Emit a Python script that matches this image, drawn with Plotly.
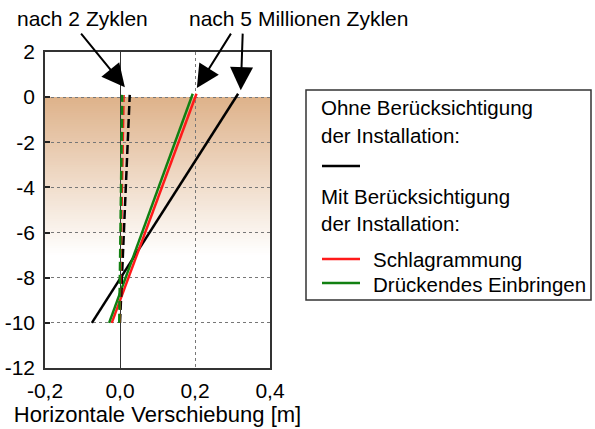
import plotly.graph_objects as go

# ---------------- data ----------------
depth_ends = [-10, 0.15]          # pile toe / head (m)
depth_ends_2 = [-10, 0.1]

# after 5 million cycles
x_5m_ohne = [-0.075, 0.315]
x_5m_schlag = [-0.022, 0.204]
x_5m_drueck = [-0.029, 0.194]
# after 2 cycles
x_2_ohne = [0.0, 0.026]
x_2_schlag = [0.0, 0.011]
x_2_drueck = [-0.002, 0.006]

x_tickvals = [-0.2, 0.0, 0.2, 0.4]
x_ticktext = ["-0,2", "0,0", "0,2", "0,4"]
y_tickvals = [2, 0, -2, -4, -6, -8, -10, -12]
y_ticktext = ["2", "0", "-2", "-4", "-6", "-8", "-10", "-12"]

x_title = "Horizontale Verschiebung [m]"
label_2 = "nach 2 Zyklen"
label_5m = "nach 5 Millionen Zyklen"
legend_head_1 = ["Ohne Berücksichtigung", "der Installation:"]
legend_head_2 = ["Mit Berücksichtigung", "der Installation:"]
legend_items = ["Schlagrammung", "Drückendes Einbringen"]

# soil gradient: depth range of fading colour
soil_top, soil_fade_end = 0.0, -7.0
soil_rgb = (222, 178, 138)

FONT = "Liberation Sans, Arial, sans-serif"
BLACK, RED, GREEN = "#000000", "#ff1a1a", "#118011"

W, H = 595, 429
ML, MR, MT, MB = 45, 325, 52, 61
PW, PH = W - ML - MR, H - MT - MB


def xp(px):
    return (px - ML) / PW


def yp(py):
    return (H - MB - py) / PH


fig = go.Figure()

# ---------------- traces ----------------
fig.add_trace(go.Scatter(x=x_5m_ohne, y=depth_ends, mode="lines",
                         line=dict(color=BLACK, width=2.5), showlegend=False))
fig.add_trace(go.Scatter(x=x_5m_schlag, y=depth_ends, mode="lines",
                         line=dict(color=RED, width=2.5), showlegend=False))
fig.add_trace(go.Scatter(x=x_5m_drueck, y=depth_ends, mode="lines",
                         line=dict(color=GREEN, width=2.5), showlegend=False))
fig.add_trace(go.Scatter(x=x_2_ohne, y=depth_ends_2, mode="lines",
                         line=dict(color=BLACK, width=2.5, dash="9px,4px"), showlegend=False))
fig.add_trace(go.Scatter(x=x_2_schlag, y=depth_ends_2, mode="lines",
                         line=dict(color=RED, width=1.5, dash="9px,4px"), showlegend=False))
fig.add_trace(go.Scatter(x=x_2_drueck, y=depth_ends_2, mode="lines",
                         line=dict(color=GREEN, width=2.5, dash="9px,4px"), showlegend=False))

shapes = []
# soil gradient strips (below grid)
N = 70
for i in range(N):
    y0 = soil_fade_end + (soil_top - soil_fade_end) * i / N
    t = (i + 0.5) / N
    r = round(255 + (soil_rgb[0] - 255) * t)
    g = round(255 + (soil_rgb[1] - 255) * t)
    b = round(255 + (soil_rgb[2] - 255) * t)
    shapes.append(dict(type="rect", xref="x", yref="y", x0=-0.2, x1=0.4,
                       y0=y0, y1=soil_top, fillcolor=f"rgb({r},{g},{b})",
                       line=dict(width=0), layer="below"))

# legend box
shapes.append(dict(type="rect", xref="paper", yref="paper",
                   x0=xp(306), x1=xp(591), y0=yp(300), y1=yp(90),
                   line=dict(color="#333333", width=1.5), fillcolor="white"))
for py, col in [(166, BLACK), (259, RED), (283, GREEN)]:
    shapes.append(dict(type="line", xref="paper", yref="paper",
                       x0=xp(322), x1=xp(360), y0=yp(py), y1=yp(py),
                       line=dict(color=col, width=2.5)))

annotations = []
tf = dict(family=FONT, size=20.5, color="black")
for py, txt in [(108, legend_head_1[0]), (135, legend_head_1[1]),
                (196, legend_head_2[0]), (223, legend_head_2[1])]:
    annotations.append(dict(x=xp(319), y=yp(py), xref="paper", yref="paper",
                            text=txt, showarrow=False, xanchor="left",
                            yanchor="middle", font=tf))
for py, txt in [(259, legend_items[0]), (284, legend_items[1])]:
    annotations.append(dict(x=xp(371), y=yp(py), xref="paper", yref="paper",
                            text=txt, showarrow=False, xanchor="left",
                            yanchor="middle", font=tf))

tf21 = dict(family=FONT, size=21, color="black")
annotations.append(dict(x=xp(82), y=yp(18), xref="paper", yref="paper",
                        text=label_2, showarrow=False, xanchor="center",
                        yanchor="middle", font=tf21))
annotations.append(dict(x=xp(298), y=yp(18), xref="paper", yref="paper",
                        text=label_5m, showarrow=False, xanchor="center",
                        yanchor="middle", font=tf21))

arrow = dict(showarrow=True, arrowhead=2, arrowsize=2.3, arrowwidth=2,
             arrowcolor="black", text="", xref="x", yref="y")
annotations.append(dict(x=0.013, y=0.44, ax=-45, ay=-55, **arrow))
annotations.append(dict(x=0.205, y=0.40, ax=35, ay=-56, **arrow))
annotations.append(dict(x=0.322, y=0.31, ax=2, ay=-58, **arrow))

fig.update_layout(
    width=W, height=H,
    margin=dict(l=ML, r=MR, t=MT, b=MB, pad=0, autoexpand=False),
    paper_bgcolor="white", plot_bgcolor="white",
    font=dict(family=FONT, size=20, color="black"),
    shapes=shapes, annotations=annotations, showlegend=False,
)
fig.update_xaxes(range=[-0.2, 0.4], tickvals=x_tickvals, ticktext=x_ticktext,
                 automargin=False,
                 showline=True, mirror=True, linecolor="#333333", linewidth=1.5,
                 showgrid=True, gridcolor="#777777", griddash="dot", gridwidth=1,
                 zeroline=True, zerolinecolor="#333333", zerolinewidth=1,
                 ticks="", ticklabelstandoff=3,
                 tickfont=dict(family=FONT, size=21, color="black"),
                 title=dict(text=x_title, font=dict(family=FONT, size=22, color="black"),
                            standoff=6))
fig.update_yaxes(range=[-12, 2], tickvals=y_tickvals, ticktext=y_ticktext,
                 automargin=False,
                 showline=True, mirror=True, linecolor="#333333", linewidth=1.5,
                 showgrid=True, gridcolor="#777777", griddash="dot", gridwidth=1,
                 zeroline=False, ticks="inside", ticklen=5, tickwidth=1.5,
                 tickcolor="#222222", ticklabelstandoff=4,
                 tickfont=dict(family=FONT, size=21, color="black"))

fig.write_html("out.html", config={"displayModeBar": False},
               post_script="document.body.style.margin='0';document.body.style.padding='0';")
